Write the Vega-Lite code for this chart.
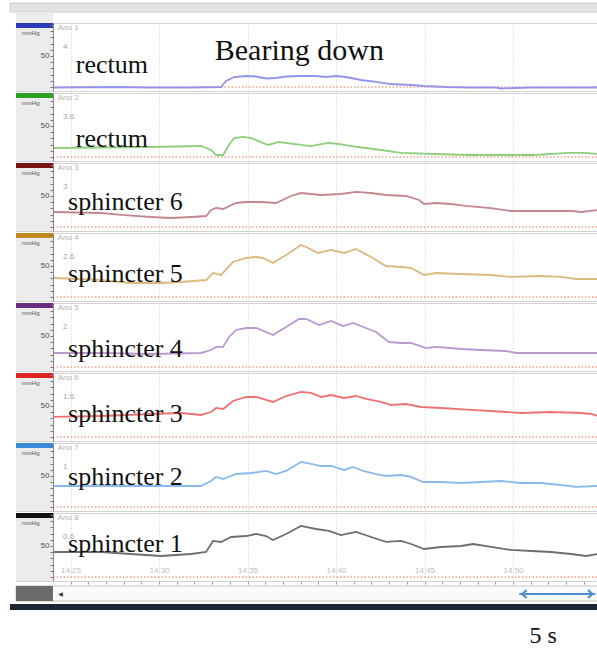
{
  "$schema": "https://vega.github.io/schema/vega-lite/v6.json",
  "padding": {"left": 8, "top": 1, "right": 0, "bottom": 0},
  "background": "white",
  "spacing": 0,
  "config": {"view": {"stroke": "#d2d2d2"}, "font": "Liberation Sans"},
  "resolve": {"scale": {"x": "independent", "y": "independent"}},
  "vconcat": [
    {
      "data": {"values": [
        {"ch":"Ano 1","label":"rectum","num":"4"},
        {"ch":"Ano 2","label":"rectum","num":"3.6"},
        {"ch":"Ano 3","label":"sphincter 6","num":"3"},
        {"ch":"Ano 4","label":"sphincter 5","num":"2.6"},
        {"ch":"Ano 5","label":"sphincter 4","num":"2"},
        {"ch":"Ano 6","label":"sphincter 3","num":"1.6"},
        {"ch":"Ano 7","label":"sphincter 2","num":"1"},
        {"ch":"Ano 8","label":"sphincter 1","num":"0.6"},
        {"ch":"Ano 1","note":"Bearing down"},
        {"ch":"Ano 1","t":-0.93,"p":-0.8},{"ch":"Ano 1","t":2.57,"p":0},{"ch":"Ano 1","t":4.55,"p":-0.8},{"ch":"Ano 1","t":6.81,"p":-0.8},{"ch":"Ano 1","t":8.5,"p":0},{"ch":"Ano 1","t":8.79,"p":9.7},{"ch":"Ano 1","t":9.24,"p":16.1},{"ch":"Ano 1","t":9.92,"p":17.7},{"ch":"Ano 1","t":10.48,"p":16.9},{"ch":"Ano 1","t":11.05,"p":13.7},{"ch":"Ano 1","t":11.61,"p":14.5},{"ch":"Ano 1","t":12.18,"p":16.9},{"ch":"Ano 1","t":13.02,"p":17.7},{"ch":"Ano 1","t":13.87,"p":17.7},{"ch":"Ano 1","t":14.43,"p":16.1},{"ch":"Ano 1","t":15.0,"p":17.7},{"ch":"Ano 1","t":15.56,"p":16.1},{"ch":"Ano 1","t":16.41,"p":11.3},{"ch":"Ano 1","t":17.26,"p":8.1},{"ch":"Ano 1","t":18.11,"p":4.8},{"ch":"Ano 1","t":19.24,"p":3.2},{"ch":"Ano 1","t":19.97,"p":1.6},{"ch":"Ano 1","t":21.21,"p":0},{"ch":"Ano 1","t":22.63,"p":-0.8},{"ch":"Ano 1","t":24.04,"p":-0.8},{"ch":"Ano 1","t":24.32,"p":-2.4},{"ch":"Ano 1","t":25.17,"p":-1.6},{"ch":"Ano 1","t":26.02,"p":-0.8},{"ch":"Ano 1","t":27.71,"p":-0.8},{"ch":"Ano 1","t":29.8,"p":-0.8},
        {"ch":"Ano 2","t":-0.93,"p":14.5},{"ch":"Ano 2","t":1.72,"p":15.3},{"ch":"Ano 2","t":4.55,"p":16.1},{"ch":"Ano 2","t":7.37,"p":17.7},{"ch":"Ano 2","t":7.94,"p":11.3},{"ch":"Ano 2","t":8.22,"p":3.2},{"ch":"Ano 2","t":8.62,"p":3.2},{"ch":"Ano 2","t":8.95,"p":19.4},{"ch":"Ano 2","t":9.24,"p":30.6},{"ch":"Ano 2","t":9.75,"p":32.3},{"ch":"Ano 2","t":10.2,"p":30.6},{"ch":"Ano 2","t":11.16,"p":19.4},{"ch":"Ano 2","t":11.78,"p":24.2},{"ch":"Ano 2","t":13.02,"p":19.4},{"ch":"Ano 2","t":13.59,"p":17.7},{"ch":"Ano 2","t":14.55,"p":22.6},{"ch":"Ano 2","t":15.11,"p":21},{"ch":"Ano 2","t":16.24,"p":16.1},{"ch":"Ano 2","t":17.54,"p":11.3},{"ch":"Ano 2","t":18.67,"p":6.5},{"ch":"Ano 2","t":20.54,"p":4.8},{"ch":"Ano 2","t":22.46,"p":3.2},{"ch":"Ano 2","t":26.19,"p":3.2},{"ch":"Ano 2","t":28.11,"p":6.5},{"ch":"Ano 2","t":29.01,"p":6.5},{"ch":"Ano 2","t":29.8,"p":4.8},
        {"ch":"Ano 3","t":-0.93,"p":24.2},{"ch":"Ano 3","t":1.72,"p":22.6},{"ch":"Ano 3","t":2.85,"p":19.4},{"ch":"Ano 3","t":4.55,"p":16.1},{"ch":"Ano 3","t":5.68,"p":14.5},{"ch":"Ano 3","t":6.81,"p":16.1},{"ch":"Ano 3","t":7.66,"p":17.7},{"ch":"Ano 3","t":7.94,"p":27.4},{"ch":"Ano 3","t":8.22,"p":30.6},{"ch":"Ano 3","t":8.62,"p":29},{"ch":"Ano 3","t":9.35,"p":38.7},{"ch":"Ano 3","t":9.92,"p":40.3},{"ch":"Ano 3","t":10.76,"p":40.3},{"ch":"Ano 3","t":11.61,"p":38.7},{"ch":"Ano 3","t":12.46,"p":50},{"ch":"Ano 3","t":13.02,"p":54.8},{"ch":"Ano 3","t":14.15,"p":51.6},{"ch":"Ano 3","t":15.28,"p":53.2},{"ch":"Ano 3","t":16.13,"p":56.5},{"ch":"Ano 3","t":16.98,"p":54.8},{"ch":"Ano 3","t":17.82,"p":51.6},{"ch":"Ano 3","t":18.95,"p":50},{"ch":"Ano 3","t":19.69,"p":43.6},{"ch":"Ano 3","t":19.97,"p":37.1},{"ch":"Ano 3","t":20.65,"p":38.7},{"ch":"Ano 3","t":21.5,"p":37.1},{"ch":"Ano 3","t":22.34,"p":33.9},{"ch":"Ano 3","t":23.76,"p":30.6},{"ch":"Ano 3","t":24.89,"p":25.8},{"ch":"Ano 3","t":26.58,"p":25.8},{"ch":"Ano 3","t":28.28,"p":25.8},{"ch":"Ano 3","t":28.84,"p":24.2},{"ch":"Ano 3","t":29.8,"p":27.4},
        {"ch":"Ano 4","t":-0.93,"p":30.6},{"ch":"Ano 4","t":1.72,"p":27.4},{"ch":"Ano 4","t":3.42,"p":22.6},{"ch":"Ano 4","t":5.11,"p":22.6},{"ch":"Ano 4","t":6.24,"p":24.2},{"ch":"Ano 4","t":7.66,"p":27.4},{"ch":"Ano 4","t":8.05,"p":38.7},{"ch":"Ano 4","t":8.5,"p":35.5},{"ch":"Ano 4","t":9.18,"p":56.5},{"ch":"Ano 4","t":9.92,"p":62.9},{"ch":"Ano 4","t":10.48,"p":64.5},{"ch":"Ano 4","t":10.88,"p":62.9},{"ch":"Ano 4","t":11.44,"p":54.8},{"ch":"Ano 4","t":12.18,"p":67.7},{"ch":"Ano 4","t":13.02,"p":83.9},{"ch":"Ano 4","t":13.31,"p":80.7},{"ch":"Ano 4","t":13.98,"p":71},{"ch":"Ano 4","t":14.72,"p":75.8},{"ch":"Ano 4","t":15.45,"p":71},{"ch":"Ano 4","t":16.13,"p":77.4},{"ch":"Ano 4","t":16.98,"p":64.5},{"ch":"Ano 4","t":17.82,"p":50},{"ch":"Ano 4","t":18.67,"p":48.4},{"ch":"Ano 4","t":19.24,"p":46.8},{"ch":"Ano 4","t":19.97,"p":35.5},{"ch":"Ano 4","t":20.65,"p":38.7},{"ch":"Ano 4","t":22.06,"p":37.1},{"ch":"Ano 4","t":23.76,"p":35.5},{"ch":"Ano 4","t":24.89,"p":32.3},{"ch":"Ano 4","t":26.58,"p":33.9},{"ch":"Ano 4","t":27.71,"p":32.3},{"ch":"Ano 4","t":28.56,"p":29},{"ch":"Ano 4","t":29.8,"p":29},
        {"ch":"Ano 5","t":-0.93,"p":22.6},{"ch":"Ano 5","t":1.72,"p":22.6},{"ch":"Ano 5","t":4.55,"p":21},{"ch":"Ano 5","t":7.37,"p":22.6},{"ch":"Ano 5","t":7.94,"p":27.4},{"ch":"Ano 5","t":8.22,"p":32.3},{"ch":"Ano 5","t":8.62,"p":32.3},{"ch":"Ano 5","t":8.95,"p":48.4},{"ch":"Ano 5","t":9.35,"p":59.7},{"ch":"Ano 5","t":9.92,"p":62.9},{"ch":"Ano 5","t":10.48,"p":62.9},{"ch":"Ano 5","t":11.05,"p":56.5},{"ch":"Ano 5","t":11.44,"p":51.6},{"ch":"Ano 5","t":12.18,"p":64.5},{"ch":"Ano 5","t":12.91,"p":77.4},{"ch":"Ano 5","t":13.31,"p":77.4},{"ch":"Ano 5","t":14.04,"p":67.7},{"ch":"Ano 5","t":14.72,"p":74.2},{"ch":"Ano 5","t":15.4,"p":66.1},{"ch":"Ano 5","t":15.96,"p":71},{"ch":"Ano 5","t":16.69,"p":62.9},{"ch":"Ano 5","t":17.26,"p":56.5},{"ch":"Ano 5","t":17.99,"p":40.3},{"ch":"Ano 5","t":18.67,"p":38.7},{"ch":"Ano 5","t":19.24,"p":38.7},{"ch":"Ano 5","t":20.08,"p":30.6},{"ch":"Ano 5","t":20.65,"p":32.3},{"ch":"Ano 5","t":22.06,"p":29},{"ch":"Ano 5","t":23.19,"p":27.4},{"ch":"Ano 5","t":24.6,"p":25.8},{"ch":"Ano 5","t":25.17,"p":22.6},{"ch":"Ano 5","t":27.71,"p":22.6},{"ch":"Ano 5","t":29.8,"p":22.6},
        {"ch":"Ano 6","t":-0.93,"p":32.3},{"ch":"Ano 6","t":1.72,"p":33.9},{"ch":"Ano 6","t":4.55,"p":37.1},{"ch":"Ano 6","t":6.24,"p":38.7},{"ch":"Ano 6","t":7.37,"p":35.5},{"ch":"Ano 6","t":7.94,"p":40.3},{"ch":"Ano 6","t":8.22,"p":46.8},{"ch":"Ano 6","t":8.62,"p":45.2},{"ch":"Ano 6","t":9.18,"p":58.1},{"ch":"Ano 6","t":9.92,"p":64.5},{"ch":"Ano 6","t":10.48,"p":64.5},{"ch":"Ano 6","t":11.05,"p":59.7},{"ch":"Ano 6","t":11.44,"p":56.5},{"ch":"Ano 6","t":12.18,"p":66.1},{"ch":"Ano 6","t":13.02,"p":72.6},{"ch":"Ano 6","t":13.59,"p":71},{"ch":"Ano 6","t":14.15,"p":64.5},{"ch":"Ano 6","t":14.72,"p":67.7},{"ch":"Ano 6","t":15.45,"p":62.9},{"ch":"Ano 6","t":16.13,"p":66.1},{"ch":"Ano 6","t":16.69,"p":61.3},{"ch":"Ano 6","t":17.54,"p":56.5},{"ch":"Ano 6","t":18.11,"p":51.6},{"ch":"Ano 6","t":18.95,"p":53.2},{"ch":"Ano 6","t":19.8,"p":48.4},{"ch":"Ano 6","t":20.93,"p":46.8},{"ch":"Ano 6","t":22.63,"p":43.6},{"ch":"Ano 6","t":23.76,"p":41.9},{"ch":"Ano 6","t":25.45,"p":38.7},{"ch":"Ano 6","t":27.15,"p":40.3},{"ch":"Ano 6","t":28.84,"p":38.7},{"ch":"Ano 6","t":29.41,"p":37.1},{"ch":"Ano 6","t":29.8,"p":33.9},
        {"ch":"Ano 7","t":-0.93,"p":33.9},{"ch":"Ano 7","t":1.72,"p":33.9},{"ch":"Ano 7","t":4.55,"p":33.9},{"ch":"Ano 7","t":7.37,"p":33.9},{"ch":"Ano 7","t":7.94,"p":41.9},{"ch":"Ano 7","t":8.22,"p":48.4},{"ch":"Ano 7","t":8.62,"p":45.2},{"ch":"Ano 7","t":9.35,"p":53.2},{"ch":"Ano 7","t":10.2,"p":54.8},{"ch":"Ano 7","t":11.05,"p":58.1},{"ch":"Ano 7","t":11.61,"p":53.2},{"ch":"Ano 7","t":12.18,"p":58.1},{"ch":"Ano 7","t":13.02,"p":72.6},{"ch":"Ano 7","t":13.59,"p":69.4},{"ch":"Ano 7","t":14.15,"p":66.1},{"ch":"Ano 7","t":14.72,"p":66.1},{"ch":"Ano 7","t":15.45,"p":59.7},{"ch":"Ano 7","t":15.96,"p":64.5},{"ch":"Ano 7","t":16.53,"p":58.1},{"ch":"Ano 7","t":17.26,"p":53.2},{"ch":"Ano 7","t":17.82,"p":50},{"ch":"Ano 7","t":18.67,"p":51.6},{"ch":"Ano 7","t":19.24,"p":48.4},{"ch":"Ano 7","t":19.92,"p":40.3},{"ch":"Ano 7","t":20.93,"p":40.3},{"ch":"Ano 7","t":22.06,"p":38.7},{"ch":"Ano 7","t":23.19,"p":40.3},{"ch":"Ano 7","t":24.32,"p":41.9},{"ch":"Ano 7","t":25.45,"p":38.7},{"ch":"Ano 7","t":26.58,"p":38.7},{"ch":"Ano 7","t":27.71,"p":35.5},{"ch":"Ano 7","t":28.56,"p":32.3},{"ch":"Ano 7","t":29.8,"p":33.9},
        {"ch":"Ano 8","t":-0.93,"p":40.3},{"ch":"Ano 8","t":1.72,"p":40.3},{"ch":"Ano 8","t":3.42,"p":37.1},{"ch":"Ano 8","t":5.11,"p":33.9},{"ch":"Ano 8","t":6.81,"p":37.1},{"ch":"Ano 8","t":7.66,"p":40.3},{"ch":"Ano 8","t":8.05,"p":58.1},{"ch":"Ano 8","t":8.5,"p":56.5},{"ch":"Ano 8","t":9.07,"p":64.5},{"ch":"Ano 8","t":9.92,"p":66.1},{"ch":"Ano 8","t":10.48,"p":69.4},{"ch":"Ano 8","t":11.05,"p":66.1},{"ch":"Ano 8","t":11.44,"p":59.7},{"ch":"Ano 8","t":12.18,"p":69.4},{"ch":"Ano 8","t":13.02,"p":82.3},{"ch":"Ano 8","t":13.87,"p":77.4},{"ch":"Ano 8","t":14.6,"p":74.2},{"ch":"Ano 8","t":15.28,"p":67.7},{"ch":"Ano 8","t":16.13,"p":72.6},{"ch":"Ano 8","t":16.98,"p":64.5},{"ch":"Ano 8","t":17.82,"p":56.5},{"ch":"Ano 8","t":18.67,"p":58.1},{"ch":"Ano 8","t":19.24,"p":53.2},{"ch":"Ano 8","t":19.97,"p":45.2},{"ch":"Ano 8","t":20.93,"p":48.4},{"ch":"Ano 8","t":22.06,"p":50},{"ch":"Ano 8","t":22.74,"p":53.2},{"ch":"Ano 8","t":23.76,"p":48.4},{"ch":"Ano 8","t":24.89,"p":43.6},{"ch":"Ano 8","t":26.02,"p":41.9},{"ch":"Ano 8","t":27.15,"p":40.3},{"ch":"Ano 8","t":28.28,"p":37.1},{"ch":"Ano 8","t":29.12,"p":33.9},{"ch":"Ano 8","t":29.8,"p":37.1}
      ]},
      "facet": {"row": {"field": "ch", "type": "nominal", "header": null}},
      "spacing": 2,
      "bounds": "flush",
      "resolve": {"axis": {"y": "independent"}},
      "spec": {
        "width": 582,
        "height": 68,
        "layer": [
          {
            "transform": [{"filter": "datum.ch === 'Ano 1' && datum.label"}],
            "mark": {"type": "rect", "fill": "#e3e3e3", "stroke": "#cfcfcf", "strokeWidth": 1},
            "encoding": {
              "x": {"datum": -3.42, "type": "quantitative"},
              "x2": {"datum": 29.8},
              "y": {"datum": 120.9, "type": "quantitative"},
              "y2": {"datum": 135.5}
            }
          },
          {
            "transform": [{"filter": "datum.ch === 'Ano 1' && datum.label"}],
            "mark": {"type": "rect", "fill": "#ececec"},
            "encoding": {
              "x": {"datum": -3.08, "type": "quantitative"},
              "x2": {"datum": -0.99},
              "y": {"datum": 103.2, "type": "quantitative"},
              "y2": {"datum": 120.9}
            }
          },
          {
            "transform": [{"filter": "datum.label"}],
            "mark": {"type": "rect", "fill": "#ececec"},
            "encoding": {
              "x": {"datum": -3.08, "type": "quantitative"},
              "x2": {"datum": -0.99},
              "y": {"datum": -6.45, "type": "quantitative"},
              "y2": {"datum": 103.2}
            }
          },
          {
            "transform": [{"filter": "datum.label"}],
            "mark": {"type": "rect"},
            "encoding": {
              "x": {"datum": -3.08, "type": "quantitative"},
              "x2": {"datum": -0.99},
              "y": {"datum": 95.1, "type": "quantitative"},
              "y2": {"datum": 103.2},
              "fill": {"field": "ch", "type": "nominal", "legend": null,
                "scale": {"domain": ["Ano 1","Ano 2","Ano 3","Ano 4","Ano 5","Ano 6","Ano 7","Ano 8"],
                  "range": ["#2b3cb8","#2ba024","#7a1414","#c48a1c","#6a2c7c","#e02424","#3a88d8","#111111"]}}
            }
          },
          {
            "transform": [{"filter": "datum.label"}],
            "mark": {"type": "text", "text": "mmHg", "fontSize": 6, "color": "#555555", "align": "center", "baseline": "middle"},
            "encoding": {
              "x": {"datum": -2.25, "type": "quantitative"},
              "y": {"datum": 87, "type": "quantitative"}
            }
          },
          {
            "transform": [{"filter": "datum.label"}],
            "mark": {"type": "rule", "stroke": "#f2a08e", "strokeWidth": 1.3, "strokeDash": [1.5, 2]},
            "encoding": {
              "x": {"datum": -0.99, "type": "quantitative"},
              "x2": {"datum": 29.8},
              "y": {"datum": 0, "type": "quantitative"}
            }
          },
          {
            "transform": [{"filter": {"field": "t", "valid": true}}],
            "mark": {"type": "line", "strokeWidth": 1.8, "interpolate": "linear"},
            "encoding": {
              "x": {"field": "t", "type": "quantitative",
                "scale": {"domain": [-3.08, 29.8], "nice": false, "zero": false},
                "axis": {"values": [0,1,2,3,4,5,6,7,8,9,10,11,12,13,14,15,16,17,18,19,20,21,22,23,24,25,26,27,28,29],
                  "tickCount": 100,
                  "labelExpr": "datum.value % 5 === 0 ? '14:' + (25 + datum.value) : ''",
                  "title": null, "grid": true, "gridDash": [1, 2], "gridColor": "#cfcfcf",
                  "gridOpacity": {"condition": {"test": "datum.value % 5 === 0", "value": 1}, "value": 0},
                  "tickSize": 3, "tickColor": "#999999", "domainColor": "#b0b0b0",
                  "labelPadding": -14, "labelBaseline": "middle", "labelFontSize": 8,
                  "labelColor": "#bdbdbd", "labelFlush": false, "labelOverlap": false}},
              "y": {"field": "p", "type": "quantitative",
                "scale": {"domain": [-6.45, 103.2], "nice": false, "zero": false},
                "axis": {"orient": "left", "offset": -37, "values": [0,10,20,30,40,50,60,70,80,90,100],
                  "tickCount": 100,
                  "labelExpr": "datum.value === 50 ? '50' : ''", "title": null,
                  "tickSize": 3, "tickColor": "#777777", "domainColor": "#888888",
                  "labelFontSize": 8, "labelColor": "#555555", "labelPadding": 1,
                  "grid": false, "zindex": 1, "labelOverlap": false}},
              "stroke": {"field": "ch", "type": "nominal", "legend": null,
                "scale": {"domain": ["Ano 1","Ano 2","Ano 3","Ano 4","Ano 5","Ano 6","Ano 7","Ano 8"],
                  "range": ["#9494ea","#8fcf7c","#c4878f","#d9b97e","#b99ace","#ee7272","#8ab9ee","#6e6e6e"]}}
            }
          },
          {
            "transform": [{"filter": "datum.label"}],
            "mark": {"type": "text", "fontSize": 8, "color": "#b4b4b4", "align": "left", "baseline": "middle"},
            "encoding": {
              "x": {"datum": -0.72, "type": "quantitative"},
              "y": {"datum": 95.1, "type": "quantitative"},
              "text": {"field": "ch"}
            }
          },
          {
            "transform": [{"filter": "datum.label"}],
            "mark": {"type": "text", "fontSize": 8, "color": "#a4a4a4", "align": "left", "baseline": "middle"},
            "encoding": {
              "x": {"datum": -0.42, "type": "quantitative"},
              "y": {"datum": 64.5, "type": "quantitative"},
              "text": {"field": "num"}
            }
          },
          {
            "transform": [{"filter": "datum.ch === 'Ano 1' && datum.label"}],
            "mark": {"type": "text", "font": "Liberation Serif", "fontSize": 26, "color": "#111111", "align": "left", "baseline": "alphabetic"},
            "encoding": {"x": {"datum": 0.3, "type": "quantitative"}, "y": {"datum": 22.5, "type": "quantitative"}, "text": {"field": "label"}}
          },
          {
            "transform": [{"filter": "datum.ch === 'Ano 2' && datum.label"}],
            "mark": {"type": "text", "font": "Liberation Serif", "fontSize": 26, "color": "#111111", "align": "left", "baseline": "alphabetic"},
            "encoding": {"x": {"datum": 0.3, "type": "quantitative"}, "y": {"datum": 16.1, "type": "quantitative"}, "text": {"field": "label"}}
          },
          {
            "transform": [{"filter": "datum.ch === 'Ano 3' && datum.label"}],
            "mark": {"type": "text", "font": "Liberation Serif", "fontSize": 26, "color": "#111111", "align": "left", "baseline": "alphabetic"},
            "encoding": {"x": {"datum": -0.14, "type": "quantitative"}, "y": {"datum": 27.4, "type": "quantitative"}, "text": {"field": "label"}}
          },
          {
            "transform": [{"filter": "datum.ch === 'Ano 4' && datum.label"}],
            "mark": {"type": "text", "font": "Liberation Serif", "fontSize": 26, "color": "#111111", "align": "left", "baseline": "alphabetic"},
            "encoding": {"x": {"datum": -0.14, "type": "quantitative"}, "y": {"datum": 24.2, "type": "quantitative"}, "text": {"field": "label"}}
          },
          {
            "transform": [{"filter": "datum.ch === 'Ano 5' && datum.label"}],
            "mark": {"type": "text", "font": "Liberation Serif", "fontSize": 26, "color": "#111111", "align": "left", "baseline": "alphabetic"},
            "encoding": {"x": {"datum": -0.14, "type": "quantitative"}, "y": {"datum": 16.1, "type": "quantitative"}, "text": {"field": "label"}}
          },
          {
            "transform": [{"filter": "datum.ch === 'Ano 6' && datum.label"}],
            "mark": {"type": "text", "font": "Liberation Serif", "fontSize": 26, "color": "#111111", "align": "left", "baseline": "alphabetic"},
            "encoding": {"x": {"datum": -0.14, "type": "quantitative"}, "y": {"datum": 24.2, "type": "quantitative"}, "text": {"field": "label"}}
          },
          {
            "transform": [{"filter": "datum.ch === 'Ano 7' && datum.label"}],
            "mark": {"type": "text", "font": "Liberation Serif", "fontSize": 26, "color": "#111111", "align": "left", "baseline": "alphabetic"},
            "encoding": {"x": {"datum": -0.14, "type": "quantitative"}, "y": {"datum": 35.5, "type": "quantitative"}, "text": {"field": "label"}}
          },
          {
            "transform": [{"filter": "datum.ch === 'Ano 8' && datum.label"}],
            "mark": {"type": "text", "font": "Liberation Serif", "fontSize": 26, "color": "#111111", "align": "left", "baseline": "alphabetic"},
            "encoding": {"x": {"datum": -0.14, "type": "quantitative"}, "y": {"datum": 40.3, "type": "quantitative"}, "text": {"field": "label"}}
          },
          {
            "transform": [{"filter": "datum.note"}],
            "mark": {"type": "text", "font": "Liberation Serif", "fontSize": 30, "color": "#111111", "align": "left", "baseline": "alphabetic"},
            "encoding": {"x": {"datum": 8.15, "type": "quantitative"}, "y": {"datum": 43.5, "type": "quantitative"}, "text": {"field": "note"}}
          }
        ]
      }
    },
    {
      "width": 582,
      "height": 62,
      "view": {"stroke": null},
      "data": {"values": [{"note": "5 s"}]},
      "layer": [
        {
          "mark": {"type": "rect", "fill": "#fafafa", "stroke": "#c2c2c2", "strokeWidth": 1},
          "encoding": {
            "x": {"datum": -3.08, "type": "quantitative", "scale": {"domain": [-3.08, 29.8], "nice": false, "zero": false}, "axis": null},
            "x2": {"datum": 29.8},
            "y": {"datum": 0, "type": "quantitative", "scale": {"domain": [0, 62], "reverse": true, "nice": false, "zero": false}, "axis": null},
            "y2": {"datum": 15}
          }
        },
        {
          "mark": {"type": "rect", "fill": "#6a6a6a"},
          "encoding": {
            "x": {"datum": -3.08, "type": "quantitative"},
            "x2": {"datum": -0.99},
            "y": {"datum": 0, "type": "quantitative"},
            "y2": {"datum": 15}
          }
        },
        {
          "mark": {"type": "text", "text": "◀", "fontSize": 6, "color": "#333333", "align": "center", "baseline": "middle", "font": "DejaVu Sans"},
          "encoding": {
            "x": {"datum": -0.56, "type": "quantitative"},
            "y": {"datum": 7.5, "type": "quantitative"}
          }
        },
        {
          "mark": {"type": "rect", "fill": "#1f2633", "clip": false},
          "encoding": {
            "x": {"datum": -3.42, "type": "quantitative"},
            "x2": {"datum": 29.8},
            "y": {"datum": 18, "type": "quantitative"},
            "y2": {"datum": 24}
          }
        },
        {
          "mark": {"type": "rule", "stroke": "#4f8fd0", "strokeWidth": 2},
          "encoding": {
            "x": {"datum": 25.35, "type": "quantitative"},
            "x2": {"datum": 29.65},
            "y": {"datum": 8, "type": "quantitative"}
          }
        },
        {
          "mark": {"type": "point", "shape": "M1,-1L-0.2,0L1,1", "filled": false, "stroke": "#4f8fd0", "strokeWidth": 2, "size": 60, "opacity": 1},
          "encoding": {
            "x": {"datum": 25.55, "type": "quantitative"},
            "y": {"datum": 8, "type": "quantitative"}
          }
        },
        {
          "mark": {"type": "point", "shape": "M-1,-1L0.2,0L-1,1", "filled": false, "stroke": "#4f8fd0", "strokeWidth": 2, "size": 60, "opacity": 1},
          "encoding": {
            "x": {"datum": 29.45, "type": "quantitative"},
            "y": {"datum": 8, "type": "quantitative"}
          }
        },
        {
          "mark": {"type": "text", "font": "Liberation Serif", "fontSize": 24, "color": "#111111", "align": "center", "baseline": "alphabetic"},
          "encoding": {
            "x": {"datum": 26.7, "type": "quantitative"},
            "y": {"datum": 57, "type": "quantitative"},
            "text": {"field": "note"}
          }
        }
      ]
    }
  ]
}
